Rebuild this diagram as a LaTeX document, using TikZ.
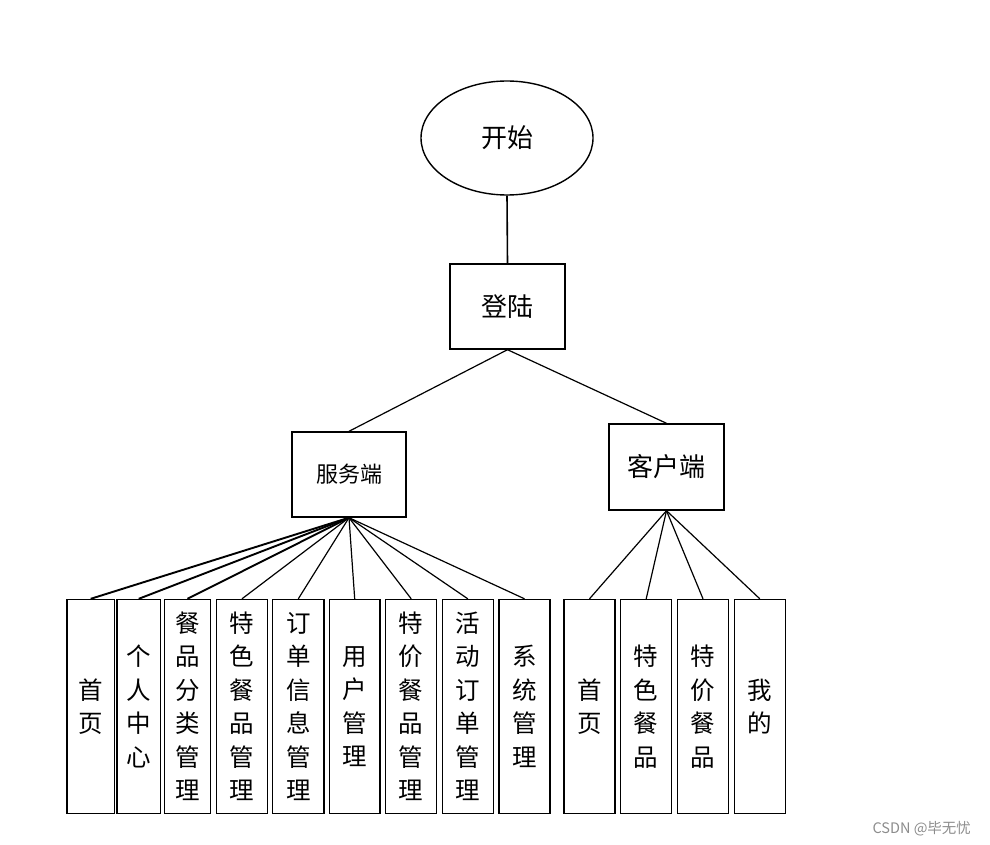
\documentclass[tikz,border=0pt]{standalone}
\usepackage{fontspec}
\newfontfamily\cjk{Noto Sans CJK SC}
\usetikzlibrary{shapes.geometric}
\begin{document}
\begin{tikzpicture}[x=1pt,y=-1pt,
  line width=1.4pt,
  box/.style={draw, rectangle, inner sep=0pt, align=center},
  bigtxt/.style={font=\cjk\fontsize{26}{30}\selectfont},
  coltxt/.style={font=\cjk\fontsize{24.5}{33.5}\selectfont},
  col/.style={box, coltxt, minimum width=#1, minimum height=214pt},
  conn/.style={line width=1.2pt}
]
\useasboundingbox (0,0) rectangle (990,845);
\node[draw, ellipse, minimum width=172pt, minimum height=114pt, inner sep=0pt, bigtxt] (start) at (507,138) {开始};
\node[box, minimum width=115pt, minimum height=85pt, bigtxt] (login) at (507.5,306.5) {登陆};
\node[box, minimum width=114pt, minimum height=85pt, font=\cjk\fontsize{22}{26}\selectfont] (srv) at (349,474.5) {服务端};
\node[box, minimum width=115pt, minimum height=86pt, bigtxt] (cli) at (666.5,467) {客户端};
\draw[line width=1.6pt] (start.south) -- (login.north);
\draw[conn] (login.south) -- (srv.north);
\draw[conn] (login.south) -- (cli.north);
% server columns
\node[col=47.5pt] (s1) at (90.75,706.5) {首\\页};
\node[col=43.5pt] (s2) at (138.75,706.5) {个\\人\\中\\心};
\node[col=46pt] (s3) at (187.5,706.5) {餐\\品\\分\\类\\管\\理};
\node[col=50.6pt] (s4) at (242,706.5) {特\\色\\餐\\品\\管\\理};
\node[col=51.3pt] (s5) at (298.3,706.5) {订\\单\\信\\息\\管\\理};
\node[col=50.7pt] (s6) at (354.7,706.5) {用\\户\\管\\理};
\node[col=51pt] (s7) at (411.2,706.5) {特\\价\\餐\\品\\管\\理};
\node[col=51pt] (s8) at (467.8,706.5) {活\\动\\订\\单\\管\\理};
\node[col=51pt] (s9) at (524.5,706.5) {系\\统\\管\\理};
% client columns
\node[col=51pt] (c1) at (589.5,706.5) {首\\页};
\node[col=51pt] (c2) at (646.2,706.5) {特\\色\\餐\\品};
\node[col=51pt] (c3) at (703,706.5) {特\\价\\餐\\品};
\node[col=51pt] (c4) at (759.8,706.5) {我\\的};
\foreach \n in {s1,s2,s3}{\draw[line width=1.9pt] (srv.south) -- (\n.north);}
\foreach \n in {s4,s5,s6,s7,s8,s9}{\draw[conn] (srv.south) -- (\n.north);}
\foreach \n in {c1,c2,c3,c4}{\draw[conn] (cli.south) -- (\n.north);}
\node[font=\cjk\fontsize{14.5}{16}\selectfont, text=black!45, anchor=east] (wm) at (975,829) {CSDN @毕无忧};
\end{tikzpicture}
\end{document}
